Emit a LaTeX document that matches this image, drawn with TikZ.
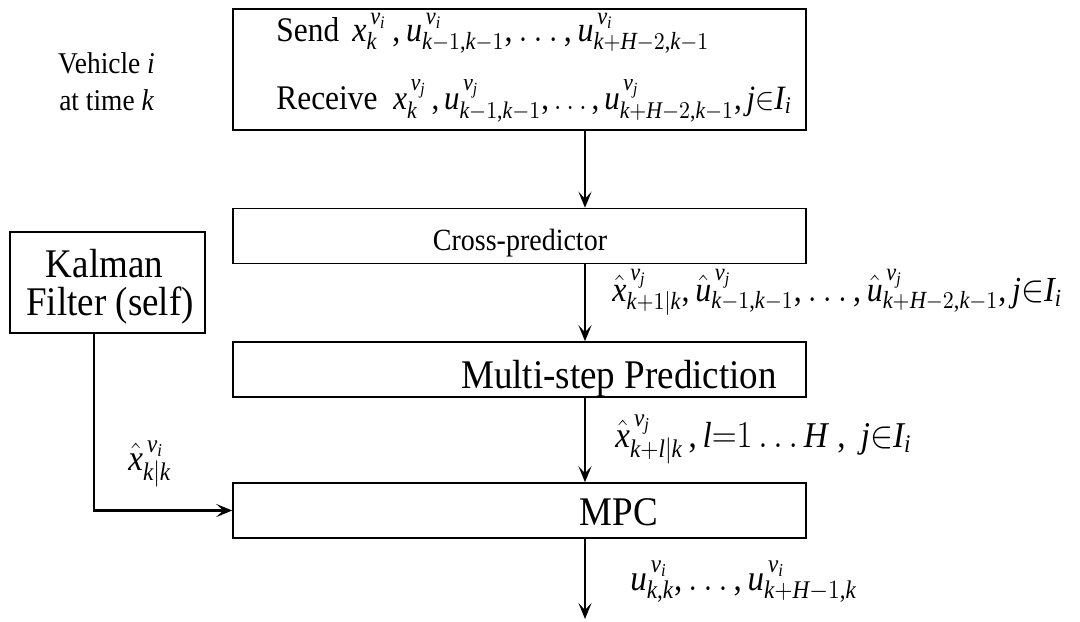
\documentclass[tikz,border=0pt]{standalone}
\usepackage{fontspec}
\setmainfont{Liberation Serif}
\usepackage{graphicx}
\usetikzlibrary{arrows.meta}
\DeclareSymbolFont{tlet}{TU}{\rmdefault}{m}{it}
\DeclareSymbolFont{tup}{TU}{\rmdefault}{m}{n}
\DeclareMathSymbol{x}{\mathalpha}{tlet}{`x}
\DeclareMathSymbol{u}{\mathalpha}{tlet}{`u}
\DeclareMathSymbol{k}{\mathalpha}{tlet}{`k}
\DeclareMathSymbol{v}{\mathalpha}{tlet}{`v}
\DeclareMathSymbol{i}{\mathalpha}{tlet}{`i}
\DeclareMathSymbol{j}{\mathalpha}{tlet}{`j}
\DeclareMathSymbol{l}{\mathalpha}{tlet}{`l}
\DeclareMathSymbol{H}{\mathalpha}{tlet}{`H}
\DeclareMathSymbol{I}{\mathalpha}{tlet}{`I}
\DeclareMathSymbol{1}{\mathalpha}{tup}{`1}
\DeclareMathSymbol{2}{\mathalpha}{tup}{`2}
\DeclareMathSymbol{+}{\mathbin}{tup}{`+}
\DeclareMathSymbol{=}{\mathrel}{tup}{`=}
\DeclareMathSymbol{,}{\mathpunct}{tup}{`,}
\newcommand\vst[1]{\scalebox{1}[1.1]{#1}}
\begin{document}
\begin{tikzpicture}[x=0.5pt,y=-0.5pt,
  box/.style={draw, line width=0.75pt, inner sep=0pt, minimum width=286.5pt, minimum height=27.5pt},
  arr/.style={line width=1.1pt, -{Stealth[length=8pt,width=6.5pt,inset=3.5pt]}},
  txt/.style={inner sep=0pt, anchor=base},
  big/.style={txt, font=\fontsize{18.5}{20}\selectfont},
  mid/.style={txt, anchor=base west, font=\fontsize{15.7}{18}\selectfont},
  midm/.style={txt, anchor=base west, font=\fontsize{16}{18}\selectfont},
  lab/.style={inner sep=0pt, anchor=base west, font=\fontsize{16.5}{18}\selectfont}]
\useasboundingbox (0,0) rectangle (1080,621);
% boxes
\node[box, minimum height=60.5pt] (top) at (519.5,69.5) {};
\node[box] (cross) at (519.5,236) {};
\node[box, minimum width=97.5pt, minimum height=50.5pt] (kal) at (107.5,282.5) {};
\node[box] (multi) at (519.5,369.5) {};
\node[box] (mpc) at (519.5,510.5) {};
% texts
\node[mid] (send) at (276,41.5) {\vst{Send}};
\node[midm] (sendm) at (352,41.5) {\vst{$x_k^{\,v_i}\,,u_{k-1,k-1}^{\,v_i},\ldots,u_{k+H-2,k-1}^{\,v_i}$}};
\node[mid] (recv) at (276,109) {\vst{Receive}};
\node[midm, font=\fontsize{15.5}{18}\selectfont] (recvm) at (393,109) {\vst{$x_k^{\,v_j}\,,u_{k-1,k-1}^{\,v_j},\ldots,u_{k+H-2,k-1}^{\,v_j},j{\in}I_i$}};
\node[txt, font=\fontsize{13.7}{16}\selectfont] (veh1) at (106.5,73) {\vst{Vehicle $i$}};
\node[txt, font=\fontsize{13.7}{16}\selectfont] (veh2) at (106.5,110) {\vst{at time $k$}};
\node[txt, font=\fontsize{14}{16}\selectfont] (crosst) at (520,250) {\vst{Cross-predictor}};
\node[big] (kal1) at (104.5,277) {\vst{Kalman}};
\node[big] (kal2) at (110,315) {\vst{Filter (self)}};
\node[big] (multit) at (619,388) {\vst{Multi-step Prediction}};
\node[big] (mpct) at (619,525) {\vst{MPC}};
% connectors
\coordinate (ax) at (585,0);
\coordinate (kx) at (94,0);
\coordinate (out) at (585,619);
\draw[arr] (top.south -| ax) -- (cross.north -| ax);
\draw[arr] (cross.south -| ax) -- (multi.north -| ax);
\draw[arr] (multi.south -| ax) -- (mpc.north -| ax);
\draw[arr] (mpc.south -| ax) -- (out);
\draw[arr] (kal.south -| kx) |- (mpc.west);
% labels
\node[lab, font=\fontsize{16}{18}\selectfont] (l1) at (612,301) {\vst{$\hat{x}_{k+1|k}^{\,v_j},\hat{u}_{k-1,k-1}^{\,v_j},\ldots,\hat{u}_{k+H-2,k-1}^{\,v_j},j{\in}I_i$}};
\node[lab] (l2) at (615,447) {\vst{$\hat{x}_{k+l|k}^{\,v_j}\,,l{=}1\ldots H\;,\;j{\in}I_i$}};
\node[lab] (l3) at (128,470) {\vst{$\hat{x}_{k|k}^{\,v_i}$}};
\node[lab] (l4) at (630,590) {\vst{$u_{k,k}^{\,v_i},\ldots,u_{k+H-1,k}^{\,v_i}$}};
\end{tikzpicture}
\end{document}
